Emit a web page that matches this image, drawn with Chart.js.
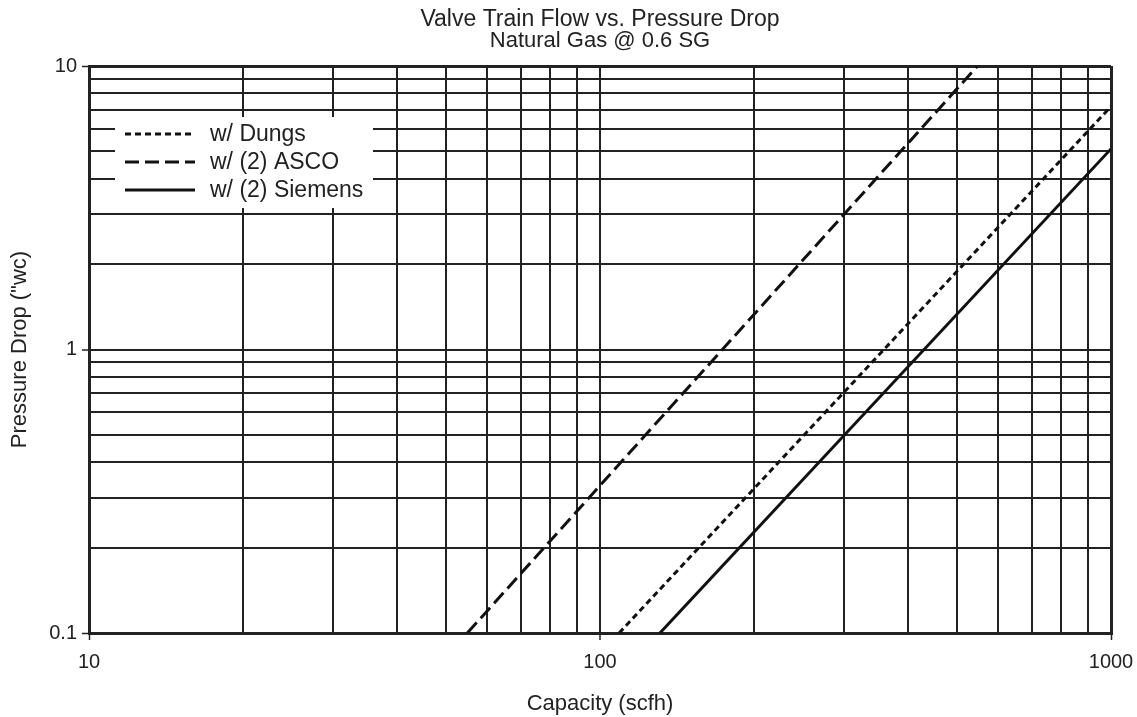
<!DOCTYPE html>
<html>
<head>
<meta charset="utf-8">
<title>Valve Train Flow vs. Pressure Drop</title>
<script src="https://cdn.jsdelivr.net/npm/chart.js@4.4.1/dist/chart.umd.min.js"></script>
<style>
  body { margin: 0; background: #fff; }
  #wrap { width: 1137px; height: 717px; }
</style>
</head>
<body>
<div id="wrap"><canvas id="flowChart" width="1137" height="717"></canvas></div>
<script>
// values (ends of each line)
const seriesNames = ['w/ Dungs', 'w/ (2) ASCO', 'w/ (2) Siemens'];
const dungsFlow = [109, 1000];
const dungsDrop = [0.1, 7.2];
const ascoFlow = [55, 548];
const ascoDrop = [0.1, 10];
const siemensFlow = [131, 1000];
const siemensDrop = [0.1, 5.1];

// grid lines and which of them get a label
const xGrid = [10, 20, 30, 40, 50, 60, 70, 80, 90, 100, 200, 300, 400, 500, 600, 700, 800, 900, 1000];
const yGrid = [0.1, 0.2, 0.3, 0.4, 0.5, 0.6, 0.7, 0.8, 0.9, 1, 2, 3, 4, 5, 6, 7, 8, 9, 10];
const xLabels = [10, 100, 1000];
const yLabels = [0.1, 1, 10];

const ink = '#222';
const fontFamily = '"Liberation Sans", Arial, Helvetica, sans-serif';
Chart.defaults.font.family = fontFamily;
Chart.defaults.color = ink;

function toPoints(xs, ys) {
  return xs.map((x, i) => ({ x: x, y: ys[i] }));
}

// legend sits in a white box inside the plot, top left
const boxLegend = {
  id: 'boxLegend',
  afterDatasetsDraw(chart) {
    const { ctx, chartArea } = chart;
    const x0 = chartArea.left + 26, y0 = chartArea.top + 51;
    ctx.save();
    ctx.fillStyle = '#fff';
    ctx.fillRect(x0, y0, 258, 91);
    ctx.font = '23px ' + fontFamily;
    ctx.textBaseline = 'middle';
    chart.data.datasets.forEach((ds, i) => {
      const y = y0 + 17 + i * 28;
      ctx.strokeStyle = ds.borderColor;
      ctx.lineWidth = ds.borderWidth;
      ctx.setLineDash(ds.borderDash || []);
      ctx.beginPath();
      ctx.moveTo(x0 + 10, y);
      ctx.lineTo(x0 + 80, y);
      ctx.stroke();
      ctx.fillStyle = ink;
      ctx.fillText(ds.label, x0 + 95, y + 1);
    });
    ctx.restore();
  }
};

function gridAxis(values, labels, lo, hi) {
  return {
    type: 'logarithmic',
    min: lo,
    max: hi,
    afterBuildTicks: (scale) => {
      scale.ticks = values.map(v => ({ value: v }));
    },
    ticks: {
      autoSkip: false,
      maxRotation: 0,
      font: { size: 20 },
      callback: (v) => labels.includes(v) ? String(v) : ''
    },
    grid: {
      color: ink,
      lineWidth: (c) => (c.tick && (c.tick.value === lo || c.tick.value === hi)) ? 3 : 2,
      tickLength: 7,
      tickWidth: 1.5,
      tickColor: (c) => (c.tick && labels.includes(c.tick.value)) ? ink : 'rgba(0,0,0,0)'
    },
    border: { display: true, color: ink, width: 3 }
  };
}

const xAxis = gridAxis(xGrid, xLabels, 10, 1000);
xAxis.ticks.padding = 10;
xAxis.title = { display: true, text: 'Capacity (scfh)', font: { size: 22 }, padding: { top: 0, bottom: 0 } };
xAxis.afterFit = (scale) => {
  scale.height = 84;
  scale.paddingLeft = 0;
  scale.paddingRight = 0;
};

const yAxis = gridAxis(yGrid, yLabels, 0.1, 10);
yAxis.ticks.padding = 5;
yAxis.title = { display: true, text: 'Pressure Drop ("wc)', font: { size: 22 }, padding: { top: 7, bottom: 0 } };
yAxis.afterFit = (scale) => { scale.width = 89; };

const flowChart = document.getElementById('flowChart');

new Chart(flowChart, {
  type: 'scatter',
  data: {
    datasets: [{
      label: seriesNames[0],
      data: toPoints(dungsFlow, dungsDrop),
      showLine: true,
      borderColor: '#111',
      borderWidth: 3,
      borderDash: [6, 4],
      pointRadius: 0
    }, {
      label: seriesNames[1],
      data: toPoints(ascoFlow, ascoDrop),
      showLine: true,
      borderColor: '#111',
      borderWidth: 3,
      borderDash: [14, 6],
      pointRadius: 0
    }, {
      label: seriesNames[2],
      data: toPoints(siemensFlow, siemensDrop),
      showLine: true,
      borderColor: '#111',
      borderWidth: 3,
      pointRadius: 0
    }]
  },
  options: {
    responsive: false,
    animation: false,
    devicePixelRatio: 1,
    layout: { padding: { left: 0, right: 26, top: 0, bottom: 0 } },
    scales: { x: xAxis, y: yAxis },
    plugins: {
      legend: { display: false },
      tooltip: { enabled: false },
      title: {
        display: true,
        fullSize: false,
        text: 'Valve Train Flow vs. Pressure Drop',
        font: { size: 23, weight: 'normal', lineHeight: '24px' },
        padding: { top: 8, bottom: 0 }
      },
      subtitle: {
        display: true,
        fullSize: false,
        text: 'Natural Gas @ 0.6 SG',
        font: { size: 22, lineHeight: '18px' },
        padding: { top: 0, bottom: 16 }
      }
    }
  },
  plugins: [boxLegend]
});
</script>
</body>
</html>
